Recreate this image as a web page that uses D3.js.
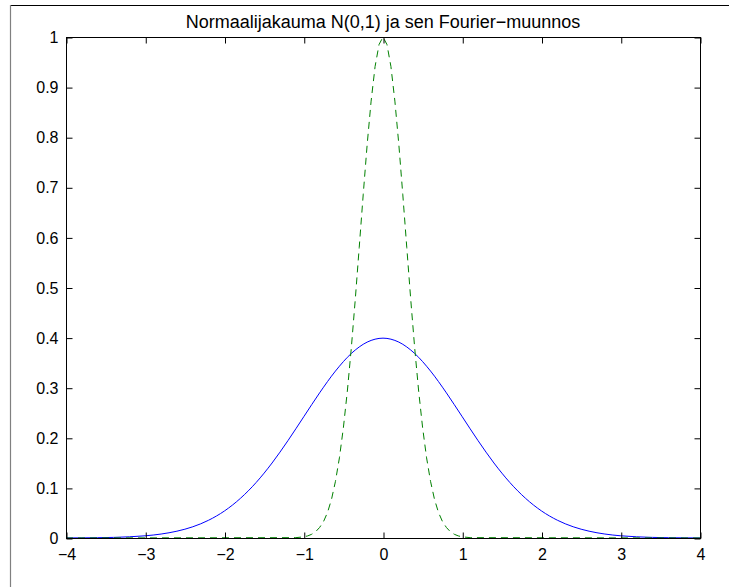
<!DOCTYPE html>
<html>
<head>
<meta charset="utf-8">
<script src="https://cdn.jsdelivr.net/npm/d3@7/dist/d3.min.js"></script>
<style>
html,body{margin:0;padding:0;background:#fff;}
svg{display:block;}
text{font-family:"Liberation Sans",Arial,Helvetica,sans-serif;fill:#000;}
</style>
</head>
<body>
<svg id="chart" width="729" height="587"></svg>
<script>
// ---- data ----
const titleText = "Normaalijakauma N(0,1) ja sen Fourier\u2212muunnos";
const xTicks = [-4, -3, -2, -1, 0, 1, 2, 3, 4];
const yTicks = [0, 0.1, 0.2, 0.3, 0.4, 0.5, 0.6, 0.7, 0.8, 0.9, 1];

// normal density N(0,1) (solid blue)
const pdfX = [-4,-3.8,-3.6,-3.4,-3.2,-3,-2.8,-2.6,-2.4,-2.2,-2,-1.8,-1.6,-1.4,-1.2,-1,-0.8,-0.6,-0.4,-0.2,0,
              0.2,0.4,0.6,0.8,1,1.2,1.4,1.6,1.8,2,2.2,2.4,2.6,2.8,3,3.2,3.4,3.6,3.8,4];
const pdfY = [0.0001,0.0003,0.0006,0.0012,0.0024,0.0044,0.0079,0.0136,0.0224,0.0355,0.0540,0.0790,0.1109,0.1497,0.1942,0.2420,0.2897,0.3332,0.3683,0.3910,0.3989,
              0.3910,0.3683,0.3332,0.2897,0.2420,0.1942,0.1497,0.1109,0.0790,0.0540,0.0355,0.0224,0.0136,0.0079,0.0044,0.0024,0.0012,0.0006,0.0003,0.0001];

// Fourier transform (dashed green)
const ftX = [-4,-1.1,-1,-0.95,-0.9,-0.85,-0.8,-0.75,-0.7,-0.65,-0.6,-0.55,-0.5,-0.45,-0.4,-0.35,-0.3,-0.25,-0.2,-0.15,-0.1,-0.05,0,
             0.05,0.1,0.15,0.2,0.25,0.3,0.35,0.4,0.45,0.5,0.55,0.6,0.65,0.7,0.75,0.8,0.85,0.9,0.95,1,1.1,4];
const ftY = [0,0.0007,0.0023,0.0042,0.0074,0.0125,0.021,0.033,0.051,0.077,0.113,0.160,0.220,0.293,0.379,0.476,0.580,0.685,0.785,0.872,0.941,0.985,1,
             0.985,0.941,0.872,0.785,0.685,0.580,0.476,0.379,0.293,0.220,0.160,0.113,0.077,0.051,0.033,0.021,0.0125,0.0074,0.0042,0.0023,0.0007,0];

// ---- layout ----
const svg = d3.select("#chart");
const L = 66, R = 700, T = 37, B = 538;
const x = d3.scaleLinear().domain([-4, 4]).range([L, R]);
const y = d3.scaleLinear().domain([0, 1]).range([B, T]);

// figure frame fragments
svg.append("line").attr("x1", 10).attr("x2", 729).attr("y1", 5.5).attr("y2", 5.5)
  .attr("stroke", "#000").attr("stroke-width", 1);
svg.append("line").attr("x1", 10.5).attr("x2", 10.5).attr("y1", 5).attr("y2", 587)
  .attr("stroke", "#808080").attr("stroke-width", 1.2);

svg.append("rect").attr("x", L).attr("y", T).attr("width", R - L).attr("height", B - T).attr("fill", "#fff");

const g = svg.append("g");

const pdfData = pdfX.map((v, i) => [v, pdfY[i]]);
const ftData = ftX.map((v, i) => [v, ftY[i]]);

g.append("path").datum(pdfData)
  .attr("d", d3.line().x(d => x(d[0])).y(d => y(d[1])).curve(d3.curveMonotoneX))
  .attr("fill", "none").attr("stroke", "#0000ff").attr("stroke-width", 1);

g.append("path").datum(ftData)
  .attr("d", d3.line().x(d => x(d[0])).y(d => y(d[1])))
  .attr("fill", "none").attr("stroke", "#008000").attr("stroke-width", 1)
  .attr("stroke-dasharray", "7,5");

// axes
const FS = 16;
const axB = d3.axisBottom(x).tickValues(xTicks).tickSize(-6).tickPadding(10).tickFormat(d3.format("d"));
const axT = d3.axisTop(x).tickValues(xTicks).tickSize(-6).tickFormat("");
const axL = d3.axisLeft(y).tickValues(yTicks).tickSize(-6).tickPadding(8).tickFormat(d => d === 0 ? "0" : d === 1 ? "1" : d3.format(".1f")(d));
const axR = d3.axisRight(y).tickValues(yTicks).tickSize(-6).tickFormat("");

function styleAxis(sel) {
  sel.select(".domain").remove();
  sel.selectAll(".tick line").attr("stroke", "#000").attr("stroke-width", 1);
  sel.selectAll("text").attr("font-size", FS).attr("font-family", '"Liberation Sans",Arial,sans-serif').attr("fill", "#000");
}
svg.append("g").attr("transform", `translate(0.5,${B + 0.5})`).call(axB).call(styleAxis);
svg.append("g").attr("transform", `translate(0.5,${T + 0.5})`).call(axT).call(styleAxis);
svg.append("g").attr("transform", `translate(${L + 0.5},0.5)`).call(axL).call(styleAxis);
svg.append("g").attr("transform", `translate(${R + 0.5},0.5)`).call(axR).call(styleAxis);

svg.append("rect").attr("x", L + 0.5).attr("y", T + 0.5).attr("width", R - L).attr("height", B - T)
  .attr("fill", "none").attr("stroke", "#000").attr("stroke-width", 1);

// title
svg.append("text").attr("x", (L + R) / 2).attr("y", 28).attr("text-anchor", "middle")
  .attr("font-size", 18).text(titleText);
</script>
</body>
</html>
